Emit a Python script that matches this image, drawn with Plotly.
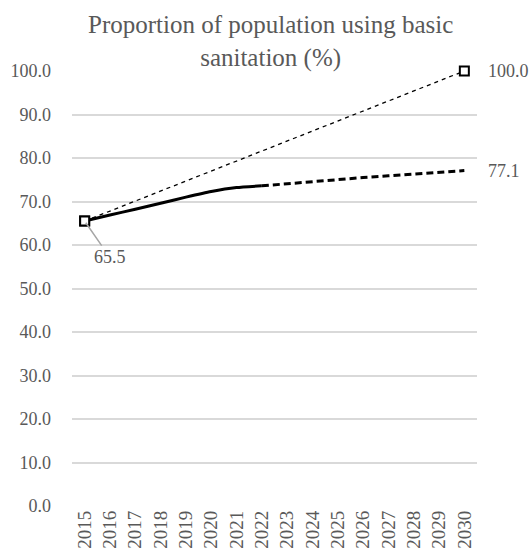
import plotly.graph_objects as go

years = list(range(2015, 2031))
actual_years = [2015, 2016, 2017, 2018, 2019, 2020, 2021, 2022]
actual_vals = [65.5, 66.9, 68.2, 69.6, 71.0, 72.3, 73.2, 73.6]
proj_years = [2022, 2023, 2024, 2025, 2026, 2027, 2028, 2029, 2030]
proj_vals = [73.6, 74.1, 74.6, 75.0, 75.5, 75.9, 76.3, 76.7, 77.1]
target_years = [2015, 2030]
target_vals = [65.5, 100.0]
y_ticks = [0, 10, 20, 30, 40, 50, 60, 70, 80, 90, 100]
title_text = "Proportion of population using basic<br>sanitation (%)"

FONT = "Liberation Serif"
GRAY = "#595959"

fig = go.Figure()
fig.add_trace(go.Scatter(x=target_years, y=target_vals, mode="lines+markers",
                         line=dict(color="black", width=1.3, dash="4px,4px"),
                         marker=dict(symbol="square", size=9, color="white",
                                     line=dict(color="black", width=2)),
                         showlegend=False, hoverinfo="skip", cliponaxis=False))
fig.add_trace(go.Scatter(x=actual_years, y=actual_vals, mode="lines",
                         line=dict(color="black", width=3, shape="spline", smoothing=0.5),
                         showlegend=False))
fig.add_trace(go.Scatter(x=proj_years, y=proj_vals, mode="lines",
                         line=dict(color="black", width=3, dash="7px,4px"),
                         showlegend=False))
fig.add_trace(go.Scatter(x=target_years[:1], y=target_vals[:1], mode="markers",
                         marker=dict(symbol="square", size=9, color="white",
                                     line=dict(color="black", width=2)),
                         showlegend=False, hoverinfo="skip"))

fig.add_annotation(x=target_years[1], y=target_vals[1], text=f"{target_vals[1]:.1f}",
                   showarrow=False, xanchor="left", xshift=22, yshift=0,
                   font=dict(family=FONT, size=18, color=GRAY))
fig.add_annotation(x=proj_years[-1], y=proj_vals[-1], text=f"{proj_vals[-1]:.1f}",
                   showarrow=False, xanchor="left", xshift=22, yshift=0,
                   font=dict(family=FONT, size=18, color=GRAY))
fig.add_annotation(x=actual_years[0], y=actual_vals[0], text=f"{actual_vals[0]:.1f}",
                   showarrow=True, arrowhead=0, arrowwidth=1.5, arrowcolor="#a6a6a6",
                   ax=25, ay=36, standoff=2,
                   font=dict(family=FONT, size=18, color=GRAY))
fig.add_annotation(xref="paper", yref="paper", x=0.49, y=1, yanchor="middle",
                   yshift=30, text=title_text, showarrow=False, align="center",
                   font=dict(family=FONT, size=25, color=GRAY))

fig.update_layout(
    width=532, height=560,
    margin=dict(l=72, r=55, t=71, b=54),
    paper_bgcolor="white", plot_bgcolor="white",
    xaxis=dict(range=[2014.5, 2030.5], tickvals=years, ticktext=[str(y) for y in years],
               tickangle=-90, showgrid=False, zeroline=False, showline=False,
               tickfont=dict(family=FONT, size=19, color=GRAY), ticks="",
               automargin=False, fixedrange=True),
    yaxis=dict(range=[0, 100], tickvals=y_ticks, tickformat=".1f",
               showgrid=True, gridcolor="#d9d9d9", gridwidth=1.5,
               zeroline=False, showline=False, ticks="", automargin=False,
               ticklabelstandoff=20, fixedrange=True,
               tickfont=dict(family=FONT, size=18, color=GRAY)),
)
fig.write_html("out.html", config={"displayModeBar": False},
               post_script="document.body.style.margin='0';")
